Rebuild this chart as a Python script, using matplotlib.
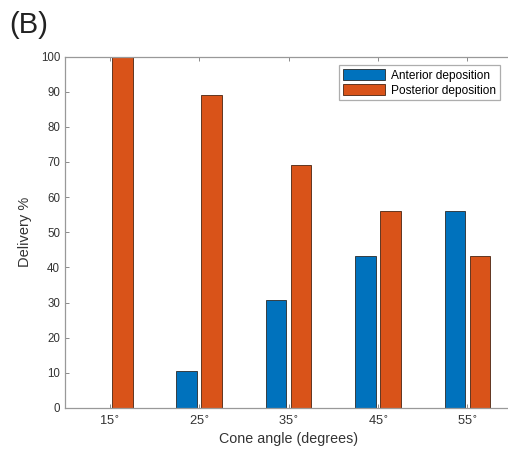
import matplotlib
matplotlib.use("Agg")
import matplotlib.pyplot as plt
import numpy as np

plt.rcParams['font.family'] = ['Liberation Sans', 'DejaVu Sans']

categories = ["15", "25", "35", "45", "55"]
anterior = [0, 10.6, 30.8, 43.3, 56.0]
posterior = [100, 89.0, 69.0, 56.0, 43.3]
yticks = list(range(0, 101, 10))

fig = plt.figure(figsize=(5.08, 4.55), dpi=100)
ax = fig.add_axes([0.128, 0.1033, 0.880, 0.7725])

x = np.arange(1, len(categories) + 1)
w = 0.23
off = 0.14
ax.bar(x - off, anterior, w, color='#0072BD', edgecolor='#2a2a2a', linewidth=0.6, label='Anterior deposition')
ax.bar(x + off, posterior, w, color='#D95319', edgecolor='#4a2410', linewidth=0.6, label='Posterior deposition')

ax.set_xlim(0.5, 5.5)
ax.set_ylim(0, 100)
ax.set_xticks(x)
ax.set_xticklabels([c + r'$^{\circ}$' for c in categories], fontsize=9.3, color='#333333')
ax.set_yticks(yticks)
ax.set_yticklabels([str(t) for t in yticks], fontsize=8.3, color='#333333')
ax.tick_params(axis='x', pad=5)
ax.tick_params(direction='in', length=3, top=True, right=True, color='#777777', width=0.6)
for s in ax.spines.values():
    s.set_color('#999999')
    s.set_linewidth(0.9)
ax.spines['right'].set_visible(False)

ax.set_xlabel('Cone angle (degrees)', fontsize=10.3, color='#333333', labelpad=3)
ax.set_ylabel('Delivery %', fontsize=10.5, color='#333333', labelpad=6)

leg = ax.legend(loc='upper right', bbox_to_anchor=(0.972, 0.976), borderaxespad=0,
                fontsize=8.6, frameon=True, fancybox=False, edgecolor='#999999',
                handlelength=3.5, handleheight=1.1, borderpad=0.33,
                labelspacing=0.17, handletextpad=0.5)
leg.get_frame().set_linewidth(0.9)

fig.text(9/508, 1 - 25/455, '(B)', fontsize=21, va='center', ha='left', color='#222222')

fig.savefig('out.png', dpi=100)
